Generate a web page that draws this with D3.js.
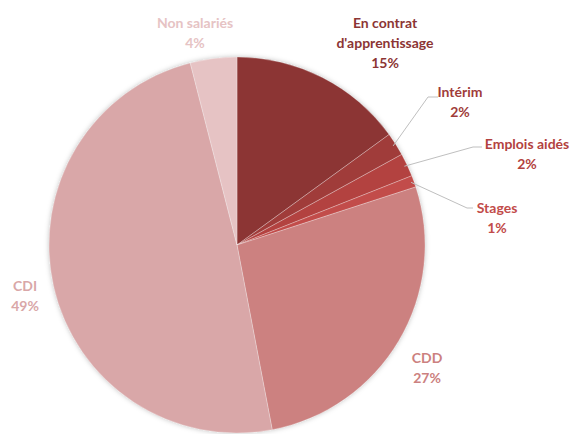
<!DOCTYPE html>
<html>
<head>
<meta charset="utf-8">
<script src="https://cdn.jsdelivr.net/npm/d3@7"></script>
<style>
  body { margin: 0; background: #fff; }
  text { font-family: Lato, "Open Sans", sans-serif; font-weight: bold; font-size: 14px; }
</style>
</head>
<body>
<script>
// pie data, clockwise from 12 o'clock
var categories = ["En contrat d'apprentissage", "Intérim", "Emplois aidés", "Stages", "CDD", "CDI", "Non salariés"];
var values = [15, 2, 2, 1, 27, 49, 4];
var colors = ["#8c3534", "#a03c3a", "#b34240", "#c24c4a", "#cc8180", "#d9a7a8", "#e6c3c4"];

// label lines (text split), label anchor and whether a leader line is drawn
var labelLines = [["En contrat", "d'apprentissage"], ["Intérim"], ["Emplois aidés"], ["Stages"], ["CDD"], ["CDI"], ["Non salariés"]];
var labelPos = [[385, 23], [460, 92], [527, 144], [497, 208], [427, 358], [25, 286], [195, 23]];
var leaders = [null, [[428, 97], [438, 97]], [[473, 147], [482, 147]], [[467, 208], [473, 208]], null, null, null];

var w = 572, h = 434;
var cx = 237, cy = 245, R = 188;

var svg = d3.select("body").append("svg")
    .attr("width", w)
    .attr("height", h);

var defs = svg.append("defs");
var f = defs.append("filter").attr("id", "shadow")
    .attr("x", "-10%").attr("y", "-10%").attr("width", "120%").attr("height", "120%");
f.append("feDropShadow")
    .attr("dx", 0).attr("dy", 0).attr("stdDeviation", 2.5)
    .attr("flood-color", "#000").attr("flood-opacity", 0.25);

var data = categories.map(function (c, i) { return {name: c, value: values[i], i: i}; });

var pie = d3.pie().sort(null).value(function (d) { return d.value; });
var arc = d3.arc().innerRadius(0).outerRadius(R);
var arcs = pie(data);

var g = svg.append("g").attr("transform", "translate(" + cx + "," + cy + ")");

g.append("circle").attr("r", R).attr("fill", "#ddd").attr("filter", "url(#shadow)");

g.selectAll("path.slice").data(arcs).enter().append("path")
    .attr("class", "slice")
    .attr("d", arc)
    .attr("fill", function (d) { return colors[d.data.i]; })
    .attr("stroke", "rgba(255,255,255,0.35)")
    .attr("stroke-width", 0.8);

// leader lines
arcs.forEach(function (d) {
    var l = leaders[d.data.i];
    if (!l) return;
    var a = (d.startAngle + d.endAngle) / 2;
    var p0 = [cx + (R - 3) * Math.sin(a), cy - (R - 3) * Math.cos(a)];
    svg.append("polyline")
        .attr("points", [p0].concat(l).map(function (p) { return p.join(","); }).join(" "))
        .attr("fill", "none")
        .attr("stroke", "#bfbfbf")
        .attr("stroke-width", 1);
});

// labels
var total = d3.sum(values);
arcs.forEach(function (d) {
    var i = d.data.i;
    var lines = labelLines[i].concat([Math.round(values[i] / total * 100) + "%"]);
    var n = lines.length;
    var t = svg.append("text")
        .attr("text-anchor", "middle")
        .attr("fill", colors[i]);
    lines.forEach(function (s, k) {
        t.append("tspan")
            .attr("x", labelPos[i][0])
            .attr("y", labelPos[i][1] + k * 20)
            .attr("dy", "0.35em")
            .text(s);
    });
});
</script>
</body>
</html>
